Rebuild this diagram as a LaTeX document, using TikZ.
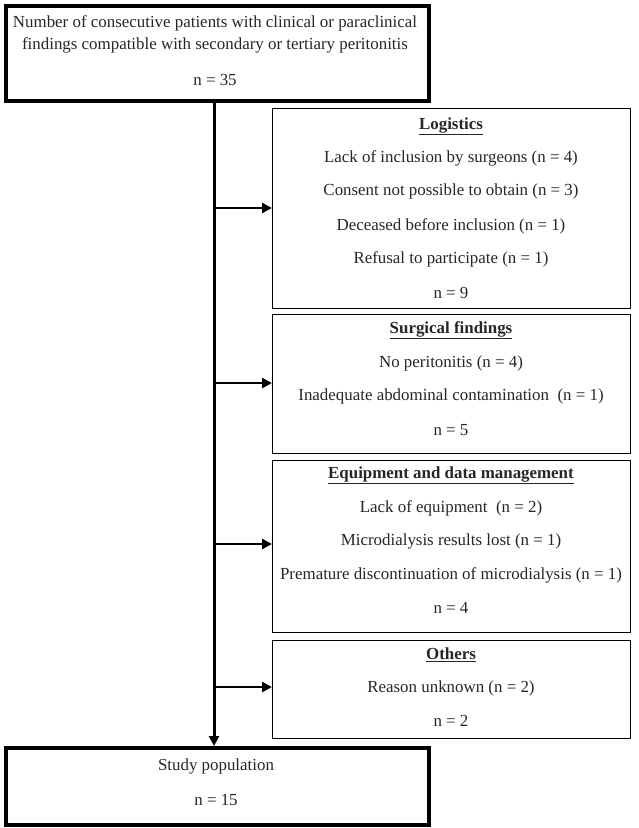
\documentclass[tikz,border=0pt]{standalone}
\usepackage{fontspec}
\setmainfont{Liberation Serif}
\usetikzlibrary{arrows.meta}
\begin{document}
\begin{tikzpicture}[x=1pt,y=-1pt,
  thickbox/.style={draw, line width=3.5pt, rectangle, inner sep=0pt, anchor=north west},
  thinbox/.style={draw, line width=1.2pt, rectangle, inner sep=0pt, anchor=north west},
  txt/.style={inner sep=0pt, text=black!85, font=\fontsize{16.9}{19}\selectfont},
  head/.style={txt, font=\fontsize{16.9}{19}\selectfont\bfseries},
  trunk/.style={line width=3pt, -{Triangle[length=10pt,width=10pt]}},
  branch/.style={line width=2.5pt, -{Triangle[length=10pt,width=10pt]}}]
\useasboundingbox (0,0) rectangle (638,828);
% boxes
\node[thickbox, minimum width=423pt, minimum height=95pt] (top) at (4,4) {};
\node[thickbox, minimum width=423pt, minimum height=77pt] (bot) at (4,746) {};
\node[thinbox, minimum width=358pt, minimum height=200pt] (log) at (272,108) {};
\node[thinbox, minimum width=358pt, minimum height=139pt] (surg) at (272,314) {};
\node[thinbox, minimum width=358pt, minimum height=172pt] (equip) at (272,460) {};
\node[thinbox, minimum width=358pt, minimum height=98pt] (oth) at (272,640) {};
% top text
\node[txt] (t1) at (215,23) {Number of consecutive patients with clinical or paraclinical};
\node[txt] (t2) at (215,45) {findings compatible with secondary or tertiary peritonitis};
\node[txt] (t3) at (215,80) {n = 35};
% logistics
\node[head] (l0) at (451,126) {\underline{Logistics}};
\node[txt] (l1) at (451,158) {Lack of inclusion by surgeons (n = 4)};
\node[txt] (l2) at (451,191) {Consent not possible to obtain (n = 3)};
\node[txt] (l3) at (451,226) {Deceased before inclusion (n = 1)};
\node[txt] (l4) at (451,259) {Refusal to participate (n = 1)};
\node[txt] (l5) at (451,293) {n = 9};
% surgical
\node[head] (s0) at (451,330) {\underline{Surgical findings}};
\node[txt] (s1) at (451,363) {No peritonitis (n = 4)};
\node[txt] (s2) at (451,396) {Inadequate abdominal contamination\ \ (n = 1)};
\node[txt] (s3) at (451,430) {n = 5};
% equipment
\node[head] (e0) at (451,475) {\underline{Equipment and data management}};
\node[txt] (e1) at (451,508) {Lack of equipment\ \ (n = 2)};
\node[txt] (e2) at (451,541) {Microdialysis results lost (n = 1)};
\node[txt] (e3) at (451,575) {Premature discontinuation of microdialysis (n = 1)};
\node[txt] (e4) at (451,608) {n = 4};
% others
\node[head] (o0) at (451,655) {\underline{Others}};
\node[txt] (o1) at (451,688) {Reason unknown (n = 2)};
\node[txt] (o2) at (451,721) {n = 2};
% bottom text
\node[txt] (b1) at (216,766) {Study population};
\node[txt] (b2) at (216,800) {n = 15};
% connectors
\coordinate (ttop) at (214,100);
\coordinate (j1) at (214,208);
\coordinate (j2) at (214,383);
\coordinate (j3) at (214,544);
\coordinate (j4) at (214,687);
\draw[trunk] (ttop) -- (ttop |- bot.north);
\draw[branch] (j1) -- (j1 -| log.west);
\draw[branch] (j2) -- (j2 -| surg.west);
\draw[branch] (j3) -- (j3 -| equip.west);
\draw[branch] (j4) -- (j4 -| oth.west);
\end{tikzpicture}
\end{document}
